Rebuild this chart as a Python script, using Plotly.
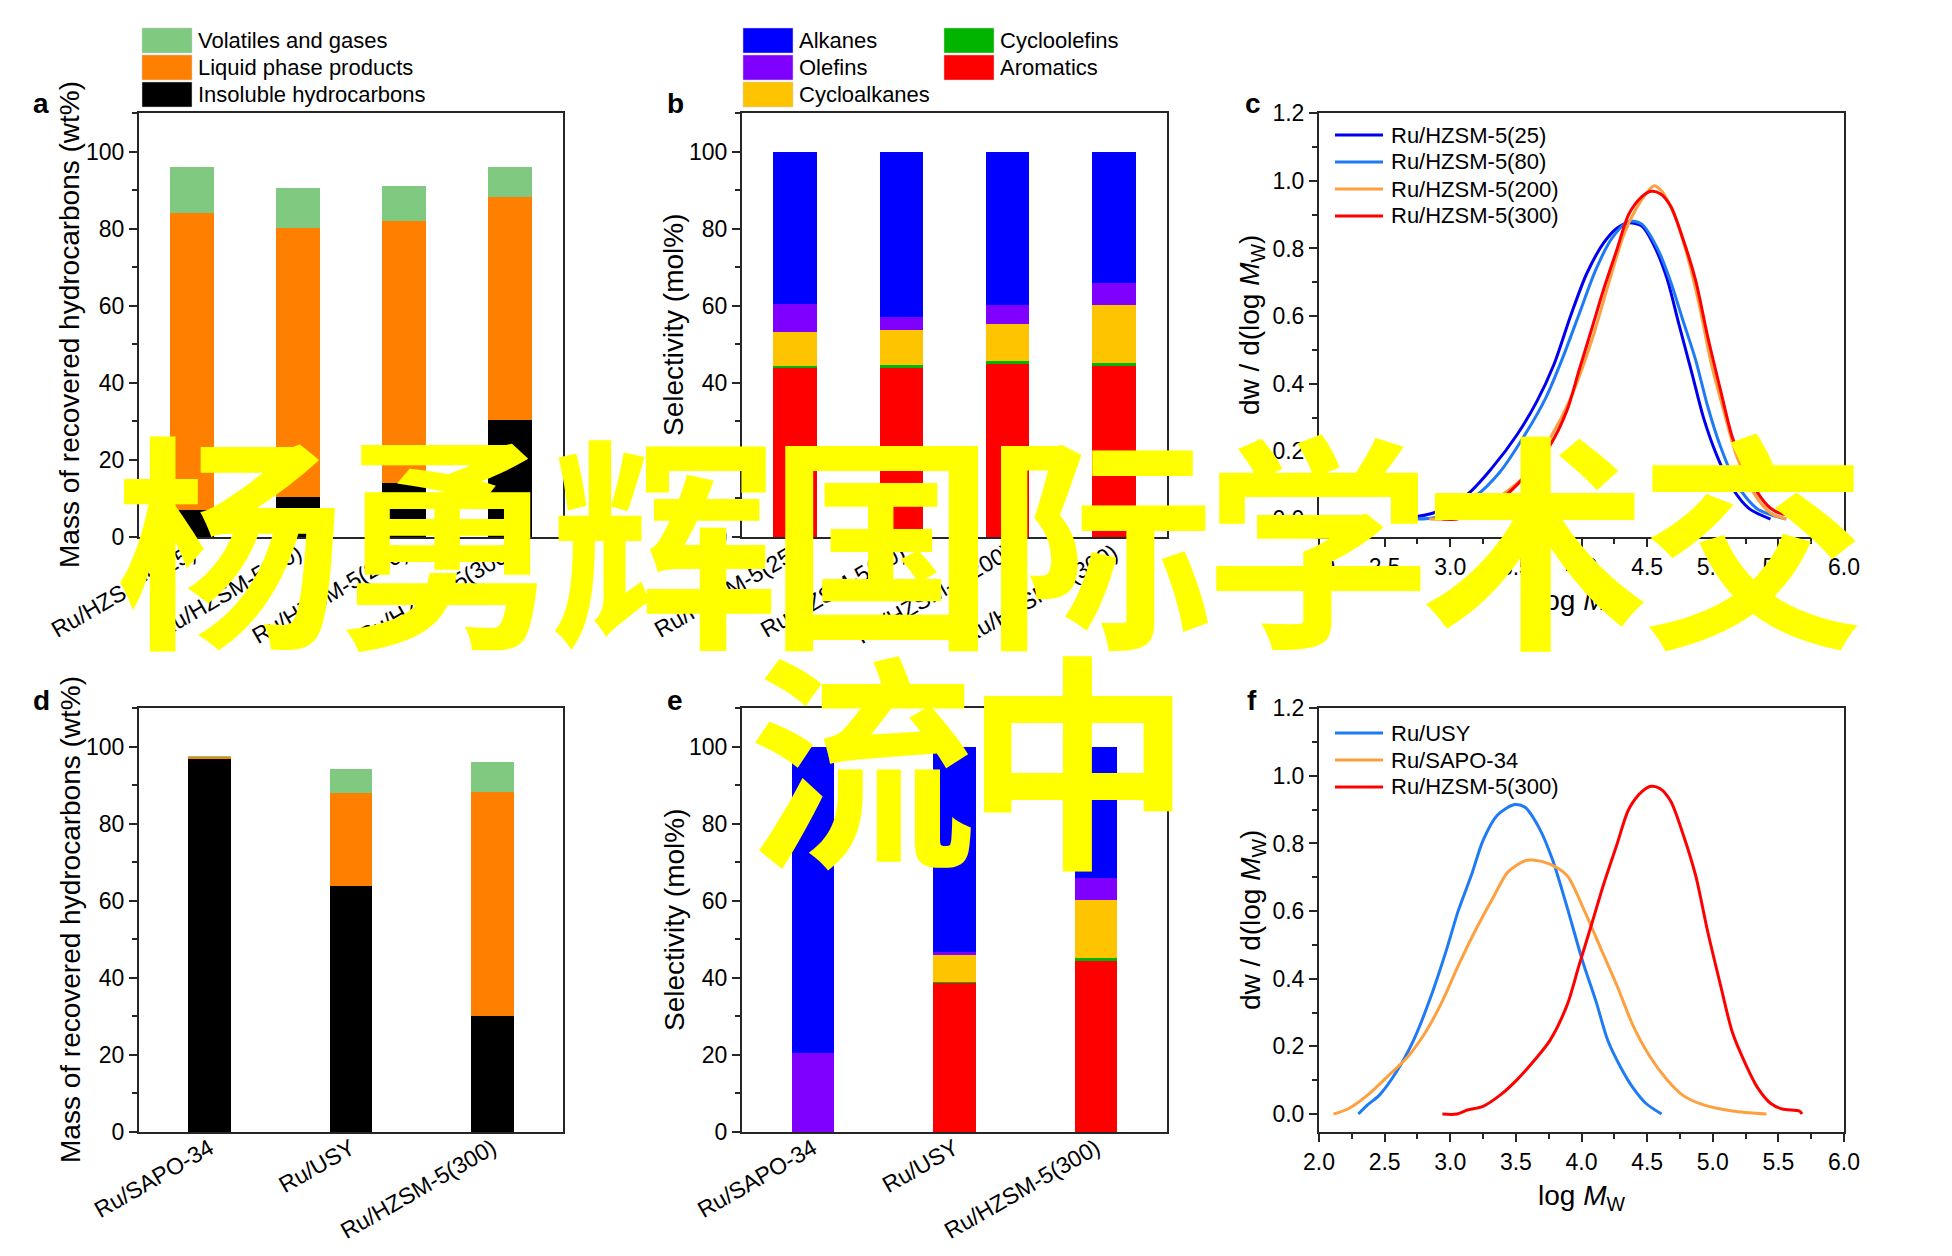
import plotly.graph_objects as go

# reference canvas is 1952x1256; page body has an 8px margin, so positions are shifted by OFF
OFF = 8
W, H = 1936, 1240
FONT = "Liberation Sans, Arial, sans-serif"
AXC = "#262626"

# ---------------- data ----------------
cats_top = ["Ru/HZSM-5(25)", "Ru/HZSM-5(80)", "Ru/HZSM-5(200)", "Ru/HZSM-5(300)"]
cats_bot = ["Ru/SAPO-34", "Ru/USY", "Ru/HZSM-5(300)"]

# panel a (wt%) stacked segments
insoluble_a = [7.0, 10.5, 14.0, 30.3]
liquid_a = [77.0, 69.7, 67.9, 57.9]
volatiles_a = [12.1, 10.3, 9.2, 7.7]

# panel d (wt%)
insoluble_d = [96.8, 63.7, 30.1]
liquid_d = [0.5, 24.3, 58.1]
volatiles_d = [0.2, 6.2, 7.7]

# panel b (mol%)
aromatics_b = [43.9, 44.1, 44.9, 44.3]
cycloolefins_b = [0.5, 0.5, 0.7, 0.9]
cycloalkanes_b = [8.7, 9.2, 9.7, 14.9]
olefins_b = [7.4, 3.2, 4.8, 5.7]
alkanes_b = [39.5, 43.0, 39.9, 34.2]

# panel e (mol%)
aromatics_e = [0.0, 38.7, 44.3]
cycloolefins_e = [0.0, 0.3, 0.9]
cycloalkanes_e = [0.0, 6.9, 14.9]
olefins_e = [20.4, 0.8, 5.7]
alkanes_e = [79.6, 53.3, 34.2]

# molecular weight distributions
hz25_x = [2.60, 2.87, 3.13, 3.32, 3.51, 3.66, 3.79, 3.92, 4.04, 4.17, 4.27, 4.36, 4.46, 4.55, 4.65, 4.74, 4.84, 4.93, 5.03, 5.15, 5.28, 5.44]
hz25_y = [0.0, 0.018, 0.073, 0.152, 0.25, 0.348, 0.457, 0.604, 0.726, 0.817, 0.86, 0.876, 0.866, 0.811, 0.713, 0.579, 0.433, 0.299, 0.189, 0.091, 0.03, 0.0]

hz80_x = [2.72, 2.91, 3.19, 3.38, 3.57, 3.73, 3.85, 3.98, 4.11, 4.23, 4.36, 4.46, 4.58, 4.68, 4.77, 4.87, 4.96, 5.06, 5.18, 5.34, 5.56]
hz80_y = [0.0, 0.006, 0.067, 0.14, 0.25, 0.36, 0.47, 0.604, 0.738, 0.829, 0.88, 0.872, 0.799, 0.701, 0.591, 0.47, 0.335, 0.213, 0.104, 0.03, 0.0]

hz200_x = [2.84, 3.13, 3.38, 3.57, 3.76, 3.92, 4.08, 4.21, 4.33, 4.46, 4.55, 4.61, 4.71, 4.80, 4.90, 4.99, 5.09, 5.18, 5.31, 5.44, 5.56]
hz200_y = [0.0, 0.006, 0.067, 0.128, 0.238, 0.36, 0.53, 0.701, 0.848, 0.945, 0.985, 0.97, 0.896, 0.787, 0.628, 0.457, 0.311, 0.189, 0.079, 0.018, 0.0]

hz300_x = [2.94, 3.05, 3.13, 3.25, 3.38, 3.51, 3.63, 3.76, 3.89, 3.98, 4.08, 4.17, 4.27, 4.36, 4.46, 4.53, 4.60, 4.68, 4.77, 4.87, 4.96, 5.06, 5.15, 5.25, 5.34, 5.44, 5.53, 5.66, 5.68]
hz300_y = [0.0, 0.0, 0.012, 0.023, 0.056, 0.102, 0.154, 0.218, 0.322, 0.438, 0.565, 0.681, 0.797, 0.901, 0.953, 0.969, 0.962, 0.925, 0.832, 0.705, 0.542, 0.38, 0.241, 0.148, 0.079, 0.032, 0.015, 0.009, 0.0]

usy_x = [2.30, 2.37, 2.46, 2.59, 2.72, 2.84, 2.97, 3.06, 3.16, 3.25, 3.36, 3.49, 3.57, 3.68, 3.78, 3.89, 4.01, 4.11, 4.20, 4.30, 4.39, 4.49, 4.61]
usy_y = [0.0, 0.027, 0.056, 0.125, 0.218, 0.334, 0.484, 0.60, 0.705, 0.809, 0.884, 0.915, 0.907, 0.844, 0.751, 0.612, 0.45, 0.334, 0.218, 0.137, 0.079, 0.032, 0.0]

sapo_x = [2.11, 2.22, 2.37, 2.53, 2.68, 2.81, 2.94, 3.06, 3.19, 3.32, 3.44, 3.57, 3.63, 3.76, 3.89, 4.01, 4.14, 4.27, 4.39, 4.52, 4.65, 4.77, 4.93, 5.15, 5.41]
sapo_y = [0.0, 0.015, 0.056, 0.114, 0.171, 0.241, 0.334, 0.438, 0.542, 0.635, 0.716, 0.749, 0.751, 0.739, 0.705, 0.612, 0.496, 0.38, 0.264, 0.171, 0.102, 0.056, 0.027, 0.009, 0.0]

mass_labels = ["Volatiles and gases", "Liquid phase products", "Insoluble hydrocarbons"]
sel_labels = ["Alkanes", "Olefins", "Cycloalkanes", "Cycloolefins", "Aromatics"]
c_labels = ["Ru/HZSM-5(25)", "Ru/HZSM-5(80)", "Ru/HZSM-5(200)", "Ru/HZSM-5(300)"]
f_labels = ["Ru/USY", "Ru/SAPO-34", "Ru/HZSM-5(300)"]
watermark = ["杨勇辉国际学术交", "流中"]

# ---------------- styles ----------------
C_GREEN, C_ORANGE, C_BLACK = "#80C980", "#FF8000", "#000000"
C_ALK, C_OLE, C_CAK, C_COL, C_ARO = "#0000FF", "#8000FF", "#FFC400", "#00B400", "#FF0000"
C_25, C_80, C_200, C_300 = "#0000F0", "#1E7BF5", "#FFA040", "#FF0000"


def px(x):
    return (x - OFF) / W


def py(y):
    return 1 - (y - OFF) / H


fig = go.Figure()


def add_stack(xa, ya, cats, segs, colors, width):
    for vals, col in zip(segs, colors):
        fig.add_trace(go.Bar(x=cats, y=vals, xaxis=xa, yaxis=ya, marker=dict(color=col, line=dict(width=0)),
                             width=width, showlegend=False, hoverinfo="skip"))


add_stack("x", "y", cats_top, [insoluble_a, liquid_a, volatiles_a], [C_BLACK, C_ORANGE, C_GREEN], 0.41)
add_stack("x4", "y4", cats_bot, [insoluble_d, liquid_d, volatiles_d], [C_BLACK, C_ORANGE, C_GREEN], 0.30)
add_stack("x2", "y2", cats_top, [aromatics_b, cycloolefins_b, cycloalkanes_b, olefins_b, alkanes_b],
          [C_ARO, C_COL, C_CAK, C_OLE, C_ALK], 0.41)
add_stack("x5", "y5", cats_bot, [aromatics_e, cycloolefins_e, cycloalkanes_e, olefins_e, alkanes_e],
          [C_ARO, C_COL, C_CAK, C_OLE, C_ALK], 0.30)


def add_curve(xa, ya, xs, ys, col):
    fig.add_trace(go.Scatter(x=xs, y=ys, xaxis=xa, yaxis=ya, mode="lines",
                             line=dict(color=col, width=3, shape="spline", smoothing=0.8),
                             showlegend=False, hoverinfo="skip"))


for xs, ys, col in [(hz25_x, hz25_y, C_25), (hz80_x, hz80_y, C_80), (hz200_x, hz200_y, C_200), (hz300_x, hz300_y, C_300)]:
    add_curve("x3", "y3", xs, ys, col)
for xs, ys, col in [(usy_x, usy_y, C_80), (sapo_x, sapo_y, C_200), (hz300_x, hz300_y, C_300)]:
    add_curve("x6", "y6", xs, ys, col)

# ---------------- axes ----------------
XL, XM, XR = (139, 563), (742, 1167), (1319, 1844)
YT, YB = (113, 537), (708, 1132)

base = dict(showline=True, linecolor=AXC, linewidth=2, mirror=True, showgrid=False, zeroline=False,
            automargin=False, tickfont=dict(family=FONT, size=23, color="black"), fixedrange=True)


def catx(dom, anchor, n):
    d = dict(base)
    d.update(domain=[px(dom[0]), px(dom[1])], anchor=anchor, type="category",
             range=[-0.5, n - 0.5], ticks="", tickangle=-30, ticklabelstandoff=-8)
    return d


def bary(dom, anchor):
    d = dict(base)
    d.update(domain=[py(dom[1]), py(dom[0])], anchor=anchor, range=[0, 110], tickmode="linear", tick0=0, dtick=20,
             ticks="outside", ticklen=8, tickwidth=2, tickcolor=AXC,
             minor=dict(tickmode="linear", tick0=0, dtick=10, ticks="outside", ticklen=5, tickwidth=2, tickcolor=AXC))
    return d


def curvex(dom, anchor):
    d = dict(base)
    d.update(domain=[px(dom[0]), px(dom[1])], anchor=anchor, range=[2, 6], tickmode="linear", tick0=2, dtick=0.5,
             tickformat=".1f", ticks="outside", ticklen=8, tickwidth=2, tickcolor=AXC,
             minor=dict(tickmode="linear", tick0=2, dtick=0.25, ticks="outside", ticklen=5, tickwidth=2, tickcolor=AXC))
    return d


def curvey(dom, anchor):
    d = dict(base)
    d.update(domain=[py(dom[1]), py(dom[0])], anchor=anchor, range=[-0.053, 1.2005], tickmode="linear", tick0=0,
             dtick=0.2, tickformat=".1f", ticks="outside", ticklen=8, tickwidth=2, tickcolor=AXC,
             minor=dict(tickmode="linear", tick0=0, dtick=0.1, ticks="outside", ticklen=5, tickwidth=2, tickcolor=AXC))
    return d


fig.update_layout(
    xaxis=catx(XL, "y", 4), yaxis=bary(YT, "x"),
    xaxis2=catx(XM, "y2", 4), yaxis2=bary(YT, "x2"),
    xaxis3=curvex(XR, "y3"), yaxis3=curvey(YT, "x3"),
    xaxis4=catx(XL, "y4", 3), yaxis4=bary(YB, "x4"),
    xaxis5=catx(XM, "y5", 3), yaxis5=bary(YB, "x5"),
    xaxis6=curvex(XR, "y6"), yaxis6=curvey(YB, "x6"),
)

# ---------------- annotations / legends ----------------
ann = []
shapes = []


def text(x, y, s, size=23, xanchor="left", angle=0, bold=False):
    ann.append(dict(x=px(x), y=py(y), xref="paper", yref="paper", text=s, showarrow=False, xanchor=xanchor,
                    yanchor="middle", textangle=angle,
                    font=dict(family=FONT, size=size, color="black", weight="bold" if bold else "normal")))


# axis titles
TS = 28
for yc in [(YT[0] + YT[1]) / 2, (YB[0] + YB[1]) / 2]:
    text(70, yc, "Mass of recovered hydrocarbons (wt%)", TS, "center", -90)
    text(674, yc, "Selectivity (mol%)", TS, "center", -90)
    text(1252, yc, "dw / d(log <i>M</i><sub>W</sub>)", TS, "center", -90)
text(1581, 602, "log <i>M</i><sub>W</sub>", TS, "center")
text(1581, 1197, "log <i>M</i><sub>W</sub>", TS, "center")

# panel letters
for (x, y, s) in [(31, 104, "a"), (665, 103, "b"), (1243, 103, "c"), (31, 700, "d"), (665, 700, "e"), (1245, 700, "f")]:
    text(x, y, s, 28, "left", 0, True)


def swatch(x0, yc, col, label):
    shapes.append(dict(type="rect", xref="paper", yref="paper", x0=px(x0), x1=px(x0 + 50), y0=py(yc + 12.5),
                       y1=py(yc - 12.5), fillcolor=col, line=dict(width=0.5, color="#cccccc")))
    text(x0 + 54, yc, label, 22)


rows = [40.5, 67.5, 94.5]
for yc, col, lab in zip(rows, [C_GREEN, C_ORANGE, C_BLACK], mass_labels):
    swatch(142, yc, col, lab)
for (x0, yc), col, lab in zip([(743, rows[0]), (743, rows[1]), (743, rows[2]), (944, rows[0]), (944, rows[1])],
                             [C_ALK, C_OLE, C_CAK, C_COL, C_ARO], sel_labels):
    swatch(x0, yc, col, lab)


def lineleg(yc, col, label):
    shapes.append(dict(type="line", xref="paper", yref="paper", x0=px(1335), x1=px(1383), y0=py(yc), y1=py(yc),
                       line=dict(color=col, width=3)))
    text(1389, yc, label, 22)


for i, (col, lab) in enumerate(zip([C_25, C_80, C_200, C_300], c_labels)):
    lineleg(135 + 27 * i, col, lab)
for i, (col, lab) in enumerate(zip([C_80, C_200, C_300], f_labels)):
    lineleg(733 + 27 * i, col, lab)

# watermark overlay, one glyph at a time
WM_SIZE = 228
for line, (x_first, pitch, yc) in zip(watermark, [(229, 217.7, 532), (862, 216, 752)]):
    for i, ch in enumerate(line):
        ann.append(dict(x=px(x_first + pitch * i), y=py(yc), xref="paper", yref="paper", text=ch,
                        showarrow=False, xanchor="center", yanchor="middle",
                        font=dict(family="Noto Sans CJK SC", size=WM_SIZE, color="#FFFF00", weight="bold")))

fig.update_layout(annotations=ann, shapes=shapes, width=W, height=H, barmode="stack",
                  margin=dict(l=0, r=0, t=0, b=0, autoexpand=False), paper_bgcolor="white", plot_bgcolor="white",
                  showlegend=False)

fig.write_html("out.html")
